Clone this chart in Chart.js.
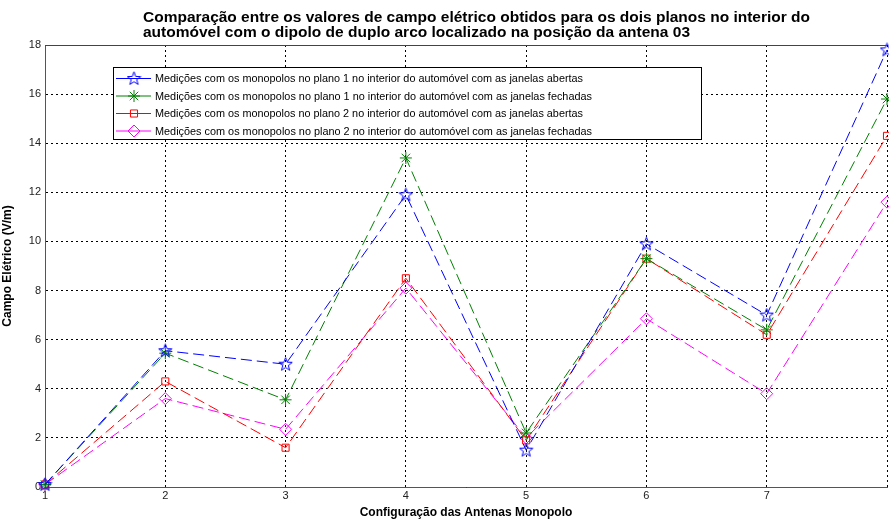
<!DOCTYPE html>
<html>
<head>
<meta charset="utf-8">
<script src="https://cdn.jsdelivr.net/npm/chart.js@4.4.0/dist/chart.umd.min.js"></script>
<style>
  html, body { margin: 0; padding: 0; background: #fff; }
  #wrap { width: 889px; height: 520px; }
</style>
</head>
<body>
<div id="wrap"><canvas id="myChart" width="889" height="520"></canvas></div>
<script>
// configuracoes das antenas (eixo x)
const configs = [1, 2, 3, 4, 5, 6, 7, 8];
// campo eletrico em V/m
const plano1Abertas = [0.1, 5.55, 5.0, 11.9, 1.5, 9.9, 7.0, 17.8];
const plano1Fechadas = [0.1, 5.45, 3.55, 13.4, 2.2, 9.3, 6.4, 15.8];
const plano2Abertas = [0.1, 4.3, 1.6, 8.5, 1.9, 9.3, 6.2, 14.3];
const plano2Fechadas = [0.1, 3.6, 2.35, 8.1, 2.0, 6.85, 3.8, 11.6];
const yTicks = [0, 2, 4, 6, 8, 10, 12, 14, 16, 18];

const titulo = [
  'Comparação entre os valores de campo elétrico obtidos para os dois planos no interior do',
  'automóvel com o dipolo de duplo arco localizado na posição da antena 03'
];
const legendas = [
  'Medições com os monopolos no plano 1 no interior do automóvel com as janelas abertas',
  'Medições com os monopolos no plano 1 no interior do automóvel com as janelas fechadas',
  'Medições com os monopolos no plano 2 no interior do automóvel com as janelas abertas',
  'Medições com os monopolos no plano 2 no interior do automóvel com as janelas fechadas'
];

// estrela de 5 pontas (pentagrama) pro marcador azul
function makeStar(color){
  const c = document.createElement('canvas');
  c.width = 15; c.height = 15;
  const g = c.getContext('2d');
  g.strokeStyle = color; g.lineWidth = 1;
  g.beginPath();
  for(let i=0;i<10;i++){
    const r = i%2==0 ? 7 : 2.9;
    const a = -Math.PI/2 + i*Math.PI/5;
    const x = 7.5 + r*Math.cos(a), y = 7.8 + r*Math.sin(a);
    if(i==0) g.moveTo(x,y); else g.lineTo(x,y);
  }
  g.closePath(); g.stroke();
  return c;
}
const starBlue = makeStar('#0000ff');

const series = [
  {label: legendas[0], data: plano1Abertas, color: '#0000ff', style: starBlue, r: 7},
  {label: legendas[1], data: plano1Fechadas, color: '#008000', style: 'star', r: 6},
  {label: legendas[2], data: plano2Abertas, color: '#ff0000', style: 'rect', r: 5},
  {label: legendas[3], data: plano2Fechadas, color: '#ff00ff', style: 'rectRot', r: 6}
];

// escreve o texto esticado pra largura w
function fitText(ctx, txt, x, y, w){
  const m = ctx.measureText(txt).width;
  ctx.save();
  ctx.translate(x, y);
  ctx.scale(w/m, 1);
  ctx.fillText(txt, 0, 0);
  ctx.restore();
}

// titulo alinhado a esquerda + moldura + legenda dentro do grafico
const extras = {
  id: 'extras',
  afterDraw(chart){
    const ctx = chart.ctx;
    const a = chart.chartArea;
    ctx.save();
    // moldura
    ctx.strokeStyle = '#444'; ctx.lineWidth = 1; ctx.setLineDash([]);
    ctx.beginPath();
    ctx.moveTo(a.left, a.top + 0.5); ctx.lineTo(a.right, a.top + 0.5);
    ctx.stroke();
    // titulo
    ctx.fillStyle = '#000';
    ctx.font = 'bold 14px "Liberation Sans", Arial, sans-serif';
    ctx.textAlign = 'left'; ctx.textBaseline = 'alphabetic';
    fitText(ctx, titulo[0], 143, 22, 667);
    fitText(ctx, titulo[1], 143, 37, 547);
    // legenda
    const lx = 113, ly = 67, lw = 588, lh = 72;
    ctx.fillStyle = '#fff';
    ctx.fillRect(lx, ly, lw, lh);
    ctx.strokeStyle = '#000';
    ctx.strokeRect(lx + 0.5, ly + 0.5, lw, lh);
    ctx.font = '11.5px "Liberation Sans", Arial, sans-serif';
    ctx.textBaseline = 'middle';
    const larg = [428, 437, 428, 437];
    series.forEach((s, i) => {
      const y = 78 + i*17.5;
      ctx.strokeStyle = s.color; ctx.lineWidth = 1;
      ctx.beginPath(); ctx.moveTo(116, y + 0.5); ctx.lineTo(151, y + 0.5); ctx.stroke();
      ctx.fillStyle = 'rgba(0,0,0,0)';
      Chart.helpers.drawPoint(ctx, {pointStyle: s.style, radius: s.r, rotation: 0, borderWidth: 1}, 134, y + 0.5);
      ctx.fillStyle = '#000';
      fitText(ctx, s.label, 155, y + 1, larg[i]);
    });
    ctx.restore();
  }
};

const ctx = document.getElementById('myChart');

new Chart(ctx, {
  type: 'line',
  data: {
    labels: configs,
    datasets: series.map(s => ({
      label: s.label,
      data: s.data.map((v, i) => ({x: configs[i], y: v})),
      borderColor: s.color,
      backgroundColor: 'rgba(0,0,0,0)',
      borderWidth: 1,
      borderDash: [11, 5],
      pointStyle: s.style,
      pointRadius: s.r,
      pointBorderWidth: 1,
      pointBorderColor: s.color,
      pointBackgroundColor: 'rgba(0,0,0,0)',
      tension: 0,
      clip: false
    }))
  },
  options: {
    responsive: false,
    animation: false,
    layout: { autoPadding: false, padding: { top: 45, right: -6, left: 0, bottom: 0 } },
    plugins: {
      legend: { display: false },
      tooltip: { enabled: false },
      title: { display: false }
    },
    scales: {
      x: {
        type: 'linear',
        min: 1, max: 8,
        afterFit: (s) => { s.height = 33; },
        ticks: {
          stepSize: 1,
          color: '#222',
          font: { size: 11, family: '"Liberation Sans", Arial' },
          padding: 2,
          callback: (v) => v == 8 ? '' : v
        },
        grid: { color: '#000', lineWidth: 1, drawTicks: false },
        border: { color: '#555', width: 1, dash: [2, 3] },
        title: {
          display: true,
          text: 'Configuração das Antenas Monopolo',
          color: '#000',
          font: { size: 12, weight: 'bold', family: '"Liberation Sans", Arial' },
          padding: { top: 0, bottom: 0 }
        }
      },
      y: {
        min: 0, max: 18,
        afterFit: (s) => { s.width = 45; },
        afterBuildTicks: (s) => { s.ticks = yTicks.map(v => ({value: v})); },
        ticks: {
          color: '#222',
          font: { size: 11, family: '"Liberation Sans", Arial' },
          padding: 4
        },
        grid: { color: '#000', lineWidth: 1, drawTicks: false },
        border: { color: '#555', width: 1, dash: [2, 3] },
        title: {
          display: true,
          text: 'Campo Elétrico (V/m)',
          color: '#000',
          font: { size: 12, weight: 'bold', family: '"Liberation Sans", Arial' },
          padding: { top: 0, bottom: 0 }
        }
      }
    }
  },
  plugins: [extras]
});
</script>
</body>
</html>
